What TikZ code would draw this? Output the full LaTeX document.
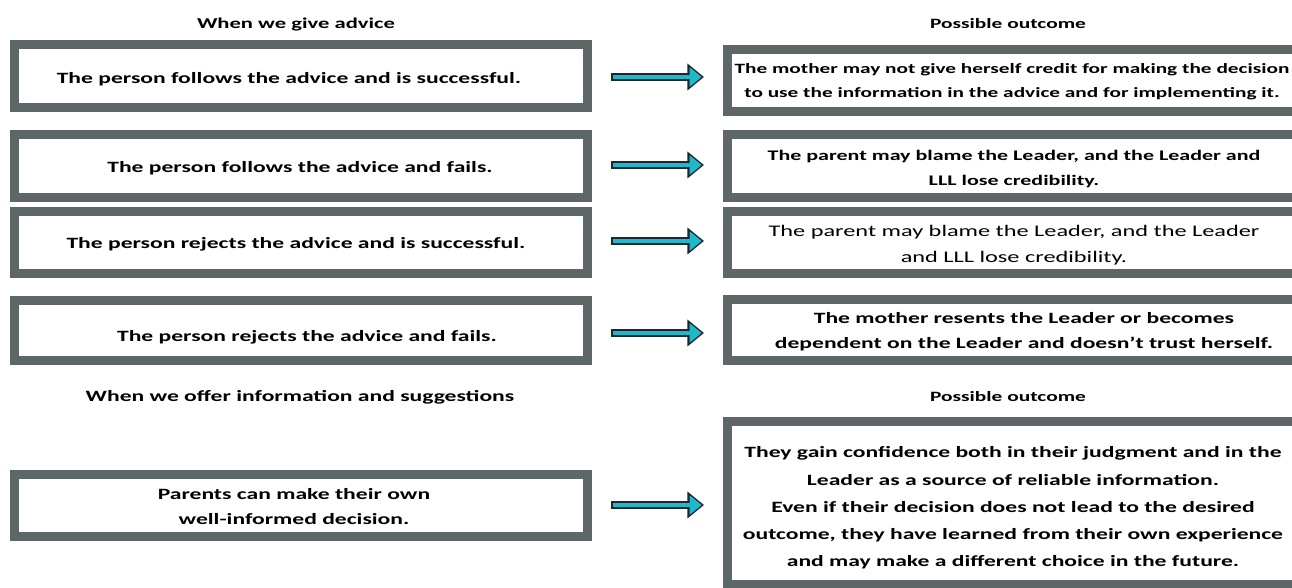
\documentclass[tikz,border=0pt]{standalone}
\usepackage{fontspec}
\setmainfont{Carlito}[FakeStretch=1.5]
\usetikzlibrary{arrows.meta}
\definecolor{boxgray}{RGB}{94,103,103}
\definecolor{arrcyan}{RGB}{32,184,204}
\definecolor{arrdark}{RGB}{30,40,44}
\newcommand{\fsz}[2]{\fontsize{#1pt}{#2pt}\selectfont\bfseries}
\tikzset{
  box/.style={draw=boxgray, line width=7pt, fill=white, inner sep=0pt},
  lbox/.style={box, minimum width=429.5pt},
  rbox/.style={box, minimum width=427.25pt},
  txt/.style={align=center, inner sep=0pt, text=black},
  title/.style={inner sep=0pt, text=black},
  arrd/.style={draw=arrdark, line width=5.4pt, -{Triangle[length=12.5pt,width=19.5pt]}, shorten <=14.25pt, shorten >=14.25pt},
  arrc/.style={draw=arrcyan, line width=2.6pt, -{Triangle[length=9pt,width=14pt]}, shorten <=15.5pt, shorten >=16pt},
}
\begin{document}
\begin{tikzpicture}[x=0.75pt,y=-0.75pt]
\useasboundingbox (0,0) rectangle (1292,588);
\clip (0,0) rectangle (1292,588);
\fill[white] (0,0) rectangle (1292,588);
% titles
\node[title, font=\fsz{11.3}{14}] (t1) at (296,24) {When we give advice};
\node[title, font=\fsz{10.7}{14}] (t2) at (1008,24) {Possible outcome};
\node[title, font=\fsz{11.8}{14}] (t3) at (300,397) {When we offer information and suggestions};
\node[title, font=\fsz{10.7}{14}] (t4) at (1008,397) {Possible outcome};
% left boxes
\node[lbox, minimum height=47pt] (l1) at (301,76) {};
\node[lbox, minimum height=47pt] (l2) at (301,166) {};
\node[lbox, minimum height=46.25pt] (l3) at (301,242.5) {};
\node[lbox, minimum height=44.75pt] (l4) at (301,330.5) {};
\node[lbox, minimum height=46.25pt] (l5) at (301,505.5) {};
% right boxes
\node[rbox, minimum height=46.25pt] (r1) at (1012.5,80.5) {};
\node[rbox, minimum height=47pt] (r2) at (1012.5,166) {};
\node[rbox, minimum height=46.25pt] (r3) at (1012.5,242.5) {};
\node[rbox, minimum height=45.5pt] (r4) at (1012.5,330) {};
\node[rbox, minimum height=122pt] (r5) at (1012.5,503) {};
% left texts
\node[txt, font=\fsz{11.8}{18.75}] (l1t) at (289,79) {The person follows the advice and is successful.};
\node[txt, font=\fsz{11.8}{18.75}] (l2t) at (300,168) {The person follows the advice and fails.};
\node[txt, font=\fsz{11.8}{18.75}] (l3t) at (296,244.5) {The person rejects the advice and is successful.};
\node[txt, font=\fsz{11.8}{18.75}] (l4t) at (307,337.5) {The person rejects the advice and fails.};
\node[txt, font=\fsz{11.8}{18.75}] (l5t) at (294,506.5) {Parents can make their own\\ well-informed decision.};
% right texts
\node[txt, font=\fsz{10.65}{18}] (r1t) at (1012,81.5) {The mother may not give herself credit for making the decision\\ to use the information in the advice and for implementing it.};
\node[txt, font=\fsz{11}{18.75}] (r2t) at (1014,169) {The parent may blame the Leader, and the Leader and\\ LLL lose credibility.};
\node[txt, font={\fsz{12.15}{19.5}\mdseries}] (r3t) at (1014,245.5) {The parent may blame the Leader, and the Leader\\ and LLL lose credibility.};
\node[txt, font=\fsz{11.8}{18.75}] (r4t) at (1024,332) {The mother resents the Leader or becomes\\ dependent on the Leader and doesn't trust herself.};
\node[txt, font=\fsz{11.8}{20.4}] (r5t) at (1013,508) {They gain confidence both in their judgment and in the\\ Leader as a source of reliable information.\\ Even if their decision does not lead to the desired\\ outcome, they have learned from their own experience\\ and may make a different choice in the future.};
% arrows
\foreach \a/\b/\y in {l1/r1/77, l2/r2/165, l3/r3/241, l4/r4/333, l5/r5/505}{
  \draw[arrd] (\a.east |- 0,\y) -- (\b.west |- 0,\y);
  \draw[arrc] (\a.east |- 0,\y) -- (\b.west |- 0,\y);
}
\end{tikzpicture}
\end{document}
